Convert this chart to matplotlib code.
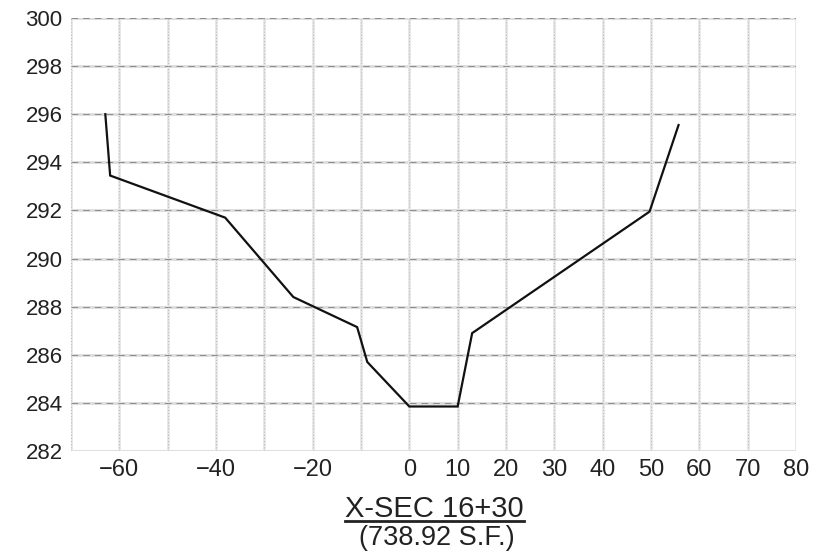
import matplotlib
matplotlib.use("Agg")
import matplotlib.pyplot as plt

# ---- data ----
offset_ft = [-62.9, -61.9, -38.1, -24.0, -10.8, -8.7, 0.0, 10.0, 13.0, 49.7, 55.7]
elev_ft = [296.0, 293.45, 291.7, 288.4, 287.15, 285.7, 283.85, 283.85, 286.9, 291.95, 295.55]

x_grid = [-70, -60, -50, -40, -30, -20, -10, 0, 10, 20, 30, 40, 50, 60, 70, 80]
x_labels = ["", "−60", "", "−40", "", "−20", "", "0", "10", "20", "30", "40", "50", "60", "70", "80"]
y_grid = [282, 284, 286, 288, 290, 292, 294, 296, 298, 300]
y_labels = [str(v) for v in y_grid]

title_main = "X-SEC 16+30"
title_sub = "(738.92 S.F.)"

plt.rcParams["font.family"] = ["Liberation Sans", "DejaVu Sans"]

# ---- figure ----
fig = plt.figure(figsize=(8.17, 5.55), dpi=100)
ax = fig.add_axes([0.0869, 0.1874, 0.8874, 0.7802])

text_color = "#222222"

# grid: light band with darker broken overlay (scanned plotter look)
for v in y_grid:
    ax.axhline(v, color="#dedede", lw=2.2, zorder=1)
    ax.axhline(v, color="#808080", lw=0.6, ls=(0, (8, 6)), zorder=1.5)
for v in x_grid:
    ax.axvline(v, color="#e6e6e6", lw=2.0, zorder=1)
    ax.axvline(v, color="#aaaaaa", lw=0.5, ls=(0, (1.5, 3)), zorder=1.5)

ax.plot(offset_ft, elev_ft, color="#111111", lw=1.6, zorder=3,
        solid_joinstyle="miter")

ax.set_xlim(x_grid[0], x_grid[-1])
ax.set_ylim(y_grid[0], y_grid[-1])
ax.set_xticks(x_grid)
ax.set_xticklabels(x_labels)
ax.set_yticks(y_grid)
ax.set_yticklabels(y_labels)
ax.tick_params(axis="both", length=0, colors=text_color)
ax.tick_params(axis="x", labelsize=17, pad=6)
ax.tick_params(axis="y", labelsize=16, pad=6)
for s in ax.spines.values():
    s.set_visible(False)

t1 = fig.text(0.532, 0.083, title_main, ha="center", va="center",
              fontsize=21, color=text_color)
t2 = fig.text(0.535, 0.030, title_sub, ha="center", va="center",
              fontsize=19.5, color=text_color)

# underline for the main title
fig.canvas.draw()
bb = t1.get_window_extent(renderer=fig.canvas.get_renderer())
bbf = bb.transformed(fig.transFigure.inverted())
fig.add_artist(plt.Line2D([bbf.x0, bbf.x1], [bbf.y0 + 0.004, bbf.y0 + 0.004],
                          transform=fig.transFigure, color=text_color, lw=2.0))

fig.savefig("out.png", dpi=100)
